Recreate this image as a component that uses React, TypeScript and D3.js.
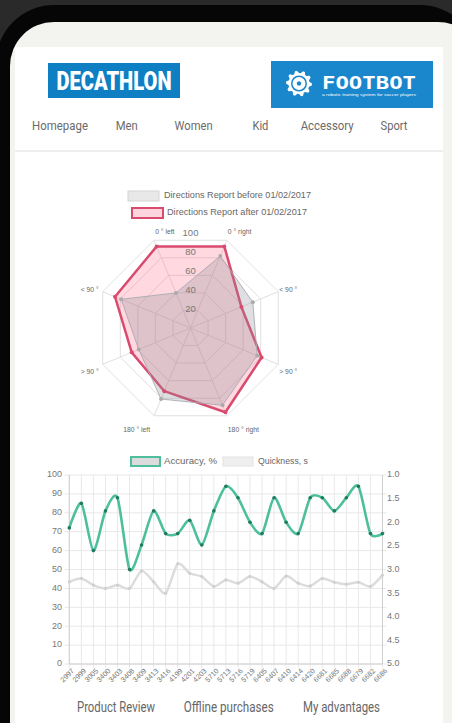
import React from "react";
import * as d3 from "d3";

const W = 452;
const H = 723;

const navItems = ["Homepage", "Men", "Women", "Kid", "Accessory", "Sport"];
const bottomItems = ["Product Review", "Offline purchases", "My advantages"];

const radarLabels = ["0 ° left", "0 ° right", "< 90 °", "> 90 °", "180 ° right", "180 ° left", "> 90 °", "< 90 °"];
const radarTicks = [20, 40, 60, 80, 100];
const beforeValues = [40, 82, 71, 76, 88, 81, 59, 79];
const afterValues = [93, 93, 58, 81, 96, 72, 67, 86];
const radarSeriesNames = ["Directions Report before 01/02/2017", "Directions Report after 01/02/2017"];

const xLabels = ["2997", "2999", "3005", "3400", "3403", "3408", "3409", "3413", "3416", "4199", "4201", "4203", "5710", "5713", "5716", "5719", "6405", "6407", "6410", "6414", "6420", "6681", "6685", "6688", "6679", "6682", "6686"];
const accuracy = [72, 85, 60, 81, 88, 50, 63, 81, 69, 69, 76, 63, 81, 94, 88, 75, 69, 88, 75, 69, 88, 88, 81, 88, 94, 69, 69];
const quickness = [3.26, 3.19, 3.33, 3.4, 3.33, 3.4, 3.03, 3.26, 3.5, 2.88, 3.08, 3.15, 3.36, 3.22, 3.29, 3.15, 3.26, 3.4, 3.14, 3.29, 3.35, 3.19, 3.27, 3.31, 3.27, 3.36, 3.12];
const leftTicks = [0, 10, 20, 30, 40, 50, 60, 70, 80, 90, 100];
const rightTicks = [1.0, 1.5, 2.0, 2.5, 3.0, 3.5, 4.0, 4.5, 5.0];
const lineSeriesNames = ["Accuracy, %", "Quickness, s"];

const FONT = "'Liberation Sans', Arial, sans-serif";
const NAVFONT = "Roboto, sans-serif";

function Radar() {
  const cx = 190.5;
  const cy = 328;
  const R = 95;
  const r = d3.scaleLinear().domain([0, 100]).range([0, R]);
  const n = radarLabels.length;
  const ang = (i: number) => ((-112.5 + (360 / n) * i) * Math.PI) / 180;
  const pt = (i: number, v: number): [number, number] => [cx + r(v) * Math.cos(ang(i)), cy + r(v) * Math.sin(ang(i))];
  const poly = (vals: number[]) => d3.line()(vals.map((v, i) => pt(i, v)))! + "Z";
  const ringPath = (v: number) => poly(radarLabels.map(() => v));

  return (
    <g>
      {/* legend */}
      <g fontFamily={FONT} fontSize={8.6} fill="#666">
        <rect x={128} y={191} width={31} height={10} fill="#e8e8e8" stroke="#d4d4d4" strokeWidth={1} />
        <text x={164} y={196} dominantBaseline="middle" textLength={147} lengthAdjust="spacingAndGlyphs">{radarSeriesNames[0]}</text>
        <rect x={132} y={208} width={31} height={10} fill="#fcd5de" stroke="#d84b6e" strokeWidth={2} />
        <text x={167} y={213} dominantBaseline="middle" textLength={140} lengthAdjust="spacingAndGlyphs">{radarSeriesNames[1]}</text>
      </g>
      {/* grid */}
      {radarTicks.map((t) => (
        <path key={t} d={ringPath(t)} fill="none" stroke="#e0e0e0" strokeWidth={1} />
      ))}
      {radarLabels.map((_, i) => {
        const [x, y] = pt(i, 100);
        return <line key={i} x1={cx} y1={cy} x2={x} y2={y} stroke="#e0e0e0" strokeWidth={1} />;
      })}
      {/* data */}
      <path d={poly(afterValues)} fill="rgba(255,99,132,0.25)" stroke="#d84b6e" strokeWidth={2.5} strokeLinejoin="round" />
      <path d={poly(beforeValues)} fill="rgba(140,140,150,0.28)" stroke="rgba(170,170,180,0.9)" strokeWidth={1} />
      {beforeValues.map((v, i) => {
        const [x, y] = pt(i, v);
        return <circle key={"b" + i} cx={x} cy={y} r={2} fill="#aaa" />;
      })}
      {afterValues.map((v, i) => {
        const [x, y] = pt(i, v);
        return <circle key={"a" + i} cx={x} cy={y} r={2} fill="#d84b6e" />;
      })}
      {/* tick labels */}
      <g fontFamily={FONT} fontSize={9.5} fill="#777" textAnchor="middle">
        {radarTicks.map((t) => (
          <text key={t} x={cx} y={cy - r(t)} dominantBaseline="middle">{t}</text>
        ))}
      </g>
      {/* point labels */}
      <g fontFamily={FONT} fontSize={6.8} fill="#666">
        {radarLabels.map((l, i) => {
          const [vx, vy] = pt(i, 100);
          const c = Math.cos(ang(i));
          const s = Math.sin(ang(i));
          const start = c > 0 || s < -0.9;
          return (
            <text key={i} x={vx + (start ? 1 : -4)} y={vy + s * 12 + 3} textAnchor={start ? "start" : "end"} dominantBaseline="middle">
              {l}
            </text>
          );
        })}
      </g>
    </g>
  );
}

function LineChart() {
  const x = d3.scalePoint<string>().domain(xLabels).range([69.3, 382.5]);
  const yL = d3.scaleLinear().domain([0, 100]).range([664, 475]);
  const yR = d3.scaleLinear().domain([1, 5]).range([475, 664]);
  const curve = d3.curveCardinal.tension(0.25);
  const accLine = d3.line<number>().x((_, i) => x(xLabels[i])!).y((d) => yL(d)).curve(curve);
  const qLine = d3.line<number>().x((_, i) => x(xLabels[i])!).y((d) => yR(d)).curve(curve);
  const [x0, x1] = x.range();

  return (
    <g>
      {/* legend */}
      <g fontFamily={FONT} fontSize={8.6} fill="#666">
        <rect x={131} y={457} width={29} height={9} fill="#dcdcdc" stroke="#4dbf9c" strokeWidth={2} />
        <text x={164} y={462} dominantBaseline="middle" textLength={53} lengthAdjust="spacingAndGlyphs">{lineSeriesNames[0]}</text>
        <rect x={223} y={457} width={30} height={9} fill="#efefef" stroke="#e2e2e2" strokeWidth={1} />
        <text x={258} y={462} dominantBaseline="middle" textLength={50} lengthAdjust="spacingAndGlyphs">{lineSeriesNames[1]}</text>
      </g>
      {/* grid */}
      {leftTicks.map((t) => (
        <line key={"h" + t} x1={x0 - 5} x2={x1 + 4} y1={yL(t)} y2={yL(t)} stroke="#e8e8e8" strokeWidth={1} />
      ))}
      {xLabels.map((l) => (
        <line key={"v" + l} x1={x(l)} x2={x(l)} y1={475} y2={668} stroke="#e8e8e8" strokeWidth={1} />
      ))}
      <line x1={x0} x2={x0} y1={475} y2={664} stroke="#cfcfcf" />
      <line x1={x1} x2={x1} y1={475} y2={664} stroke="#cfcfcf" />
      <line x1={x0} x2={x1} y1={664} y2={664} stroke="#cfcfcf" />
      {/* axis labels */}
      <g fontFamily={FONT} fontSize={9} fill="#777">
        {leftTicks.map((t) => (
          <text key={t} x={62} y={yL(t)} textAnchor="end" dominantBaseline="middle">{t}</text>
        ))}
        {rightTicks.map((t) => (
          <text key={t} x={387} y={yR(t)} textAnchor="start" dominantBaseline="middle">{t.toFixed(1)}</text>
        ))}
      </g>
      <g fontFamily={FONT} fontSize={7.2} fill="#777">
        {xLabels.map((l) => (
          <text key={l} transform={`translate(${x(l)! + 4},${670}) rotate(-45)`} textAnchor="end" dominantBaseline="middle">{l}</text>
        ))}
      </g>
      {/* series */}
      <path d={qLine(quickness)!} fill="none" stroke="#dcdcdc" strokeWidth={2.5} />
      {quickness.map((v, i) => (
        <circle key={"q" + i} cx={x(xLabels[i])} cy={yR(v)} r={1.6} fill="#d0d0d0" />
      ))}
      <path d={accLine(accuracy)!} fill="none" stroke="#4dbf9c" strokeWidth={2.6} />
      {accuracy.map((v, i) => (
        <circle key={"a" + i} cx={x(xLabels[i])} cy={yL(v)} r={1.8} fill="#1f7a5f" />
      ))}
    </g>
  );
}

function Gear({ cx, cy }: { cx: number; cy: number }) {
  const teeth = 10;
  const pts: [number, number][] = [];
  for (let i = 0; i < teeth * 4; i++) {
    const a = (i / (teeth * 4)) * Math.PI * 2;
    const rr = i % 4 < 2 ? 13 : 10.5;
    pts.push([cx + rr * Math.cos(a), cy + rr * Math.sin(a)]);
  }
  return (
    <g>
      <path d={d3.line()(pts)! + "Z"} fill="#fff" />
      <circle cx={cx} cy={cy} r={8} fill="#1a86cc" />
      <circle cx={cx} cy={cy} r={6.5} fill="#fff" />
      <path d={`M${cx},${cy - 2.5} L${cx + 2.4},${cy - 0.8} L${cx + 1.5},${cy + 2} L${cx - 1.5},${cy + 2} L${cx - 2.4},${cy - 0.8}Z`} fill="#1a86cc" />
    </g>
  );
}

export default function App() {
  const navX = d3.scalePoint<string>().domain(navItems).range([60, 394]);
  const bottomX = d3.scalePoint<string>().domain(bottomItems).range([116, 341.5]);
  const navWidths = [56, 22, 38, 16, 53, 27];
  const bottomWidths = [78, 90, 77];
  return (
    <svg width={W} height={H} style={{ position: "fixed", left: 0, top: 0, display: "block" }}>
      <rect x={0} y={0} width={W} height={H} fill="#2a2a2a" />
      <rect x={-4} y={5} width={W + 30} height={H + 80} rx={58} fill="#060606" />
      <rect x={10} y={22} width={W + 20} height={H + 60} rx={44} fill="#f3f3ef" />
      <rect x={15} y={47} width={428} height={H} fill="#ffffff" />

      {/* header logos */}
      <rect x={48} y={63} width={132} height={35} fill="#0f7fc4" />
      <text x={114} y={89.5} textAnchor="middle" fontFamily="Roboto, sans-serif" fontWeight={900} fontSize={25} fill="#fff" textLength={115} lengthAdjust="spacingAndGlyphs">DECATHLON</text>
      <rect x={271} y={61} width={162} height={47} fill="#1a86cc" />
      <Gear cx={299} cy={83.5} />
      <text x={322} y={89} fontFamily="'DejaVu Sans Mono', monospace" fontWeight={700} fontSize={17} fill="#fff" textLength={94} lengthAdjust="spacingAndGlyphs">FOOTBOT</text>
      <text x={322} y={95.5} fontFamily={FONT} fontSize={4.3} fill="#fff" textLength={94} lengthAdjust="spacingAndGlyphs">a robotic training system for soccer players</text>

      {/* nav */}
      <g fontFamily={NAVFONT} fontSize={13.5} fill="#6b6b6b">
        {navItems.map((n, i) => (
          <text key={n} x={navX(n)! - navWidths[i] / 2} y={130} textLength={navWidths[i]} lengthAdjust="spacingAndGlyphs">{n}</text>
        ))}
      </g>
      <line x1={15} x2={443} y1={151} y2={151} stroke="#dedede" strokeWidth={1} />

      <Radar />
      <LineChart />

      <g fontFamily={NAVFONT} fontSize={14.5} fill="#666">
        {bottomItems.map((n, i) => (
          <text key={n} x={bottomX(n)! - bottomWidths[i] / 2} y={712} textLength={bottomWidths[i]} lengthAdjust="spacingAndGlyphs">{n}</text>
        ))}
      </g>
    </svg>
  );
}
